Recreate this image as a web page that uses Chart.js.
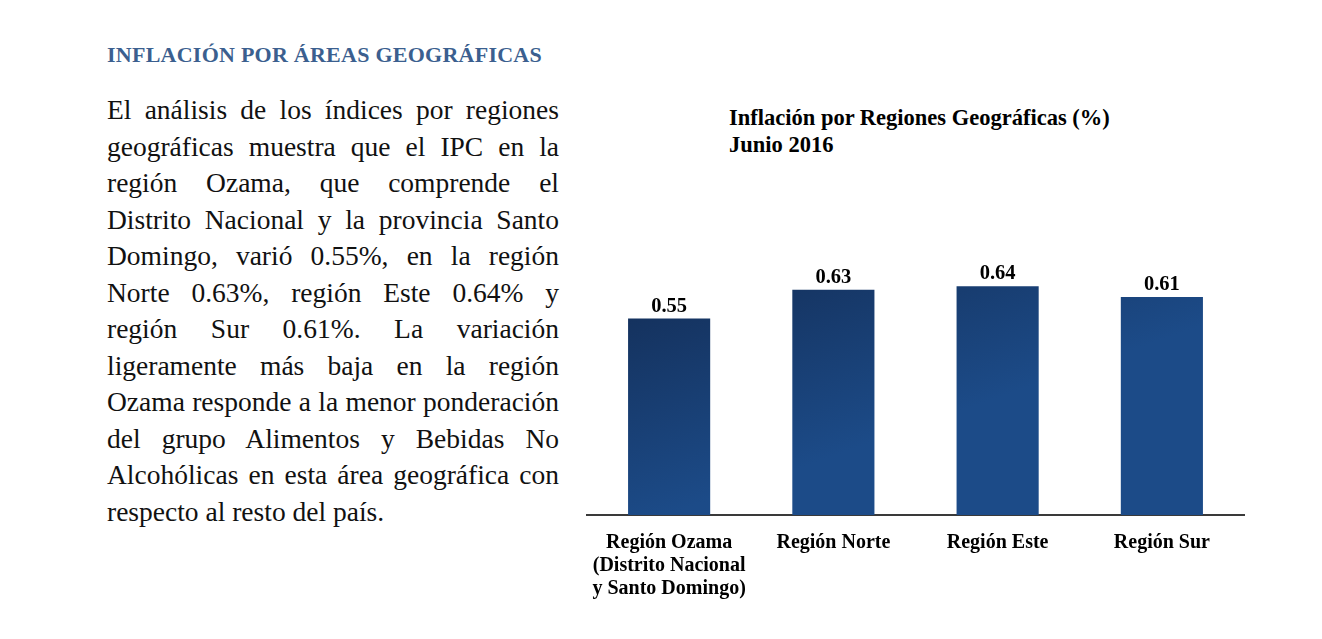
<!DOCTYPE html>
<html lang="es">
<head>
<meta charset="utf-8">
<title>Inflación por áreas geográficas</title>
<script src="https://cdn.jsdelivr.net/npm/chart.js@4.4.1/dist/chart.umd.min.js"></script>
<style>
  html, body { margin: 0; padding: 0; background: #fff; }
  body { width: 1322px; height: 639px; position: relative; overflow: hidden; }
  .heading {
    position: absolute; left: 107px; top: 42px;
    font: bold 22px 'Liberation Serif', serif;
    color: #3b5f8f; letter-spacing: 0.25px; white-space: nowrap;
  }
  .body-text {
    position: absolute; left: 107px; top: 92px; width: 452px;
    font: 27.5px 'Liberation Serif', serif; color: #111;
  }
  .body-text div { line-height: 36.5px; text-align: justify; text-align-last: justify; white-space: nowrap; }
  .body-text div.last { text-align-last: left; }
  .chart-title {
    position: absolute; left: 729px; top: 104px;
    font: bold 22.5px 'Liberation Serif', serif; color: #000; line-height: 27px;
  }
  #wrap { position: absolute; left: 560px; top: 229px; width: 710px; height: 381px; }
</style>
</head>
<body>
<div class="heading">INFLACIÓN POR ÁREAS GEOGRÁFICAS</div>
<div class="body-text" id="bodyText"></div>
<div class="chart-title">Inflación por Regiones Geográficas (%)<br>Junio 2016</div>
<div id="wrap"><canvas id="chart"></canvas></div>
<script>
/* ── Data ─────────────────────────────────────────────── */
const regions = [
  ['Región Ozama', '(Distrito Nacional', 'y Santo Domingo)'],
  'Región Norte',
  'Región Este',
  'Región Sur',
];
const inflation = [0.55, 0.63, 0.64, 0.61];

const paragraphLines = [
  'El análisis de los índices por regiones',
  'geográficas muestra que el IPC en la',
  'región Ozama, que comprende el',
  'Distrito Nacional y la provincia Santo',
  'Domingo, varió 0.55%, en la región',
  'Norte 0.63%, región Este 0.64% y',
  'región Sur 0.61%. La variación',
  'ligeramente más baja en la región',
  'Ozama responde a la menor ponderación',
  'del grupo Alimentos y Bebidas No',
  'Alcohólicas en esta área geográfica con',
  'respecto al resto del país.',
];

const bodyText = document.getElementById('bodyText');
paragraphLines.forEach((line, i) => {
  const d = document.createElement('div');
  d.textContent = line;
  if (i === paragraphLines.length - 1) d.className = 'last';
  bodyText.appendChild(d);
});

/* ── Value labels above bars ─────────────────────────── */
const valueLabels = {
  id: 'valueLabels',
  afterDatasetsDraw(chart) {
    const { ctx } = chart;
    const meta = chart.getDatasetMeta(0);
    ctx.save();
    ctx.font = "bold 20.5px 'Liberation Serif', serif";
    ctx.fillStyle = '#000';
    ctx.textAlign = 'center';
    ctx.textBaseline = 'middle';
    meta.data.forEach((bar, i) => {
      ctx.fillText(inflation[i].toFixed(2), bar.x, bar.y - 12);
    });
    ctx.restore();
  },
};

function barGradient(context) {
  const { chart } = context;
  const area = chart.chartArea;
  if (!area) return '#18407a';
  const g = chart.ctx.createLinearGradient(area.left, area.top + 60, area.left + 80, area.bottom);
  g.addColorStop(0, '#132d56');
  g.addColorStop(1, '#1c4b88');
  return g;
}

new Chart(document.getElementById('chart'), {
  type: 'bar',
  data: {
    labels: regions,
    datasets: [{
      data: inflation,
      backgroundColor: barGradient,
      borderWidth: 0,
      barPercentage: 0.5,
      categoryPercentage: 1,
    }],
  },
  options: {
    responsive: true,
    maintainAspectRatio: false,
    animation: false,
    layout: { padding: { left: 27, right: 26, top: 0, bottom: 0 } },
    plugins: { legend: { display: false }, tooltip: { enabled: false } },
    scales: {
      x: {
        grid: { display: false },
        border: { display: true, color: '#3a3a3a', width: 2 },
        ticks: {
          color: '#000',
          padding: 8,
          maxRotation: 0,
          autoSkip: false,
          font: { family: "'Liberation Serif', serif", size: 20, weight: 'bold', lineHeight: 1.15 },
        },
        afterFit(scale) { scale.height = 95; },
      },
      y: { display: false, min: 0, max: 0.8 },
    },
  },
  plugins: [valueLabels],
});
</script>
</body>
</html>
